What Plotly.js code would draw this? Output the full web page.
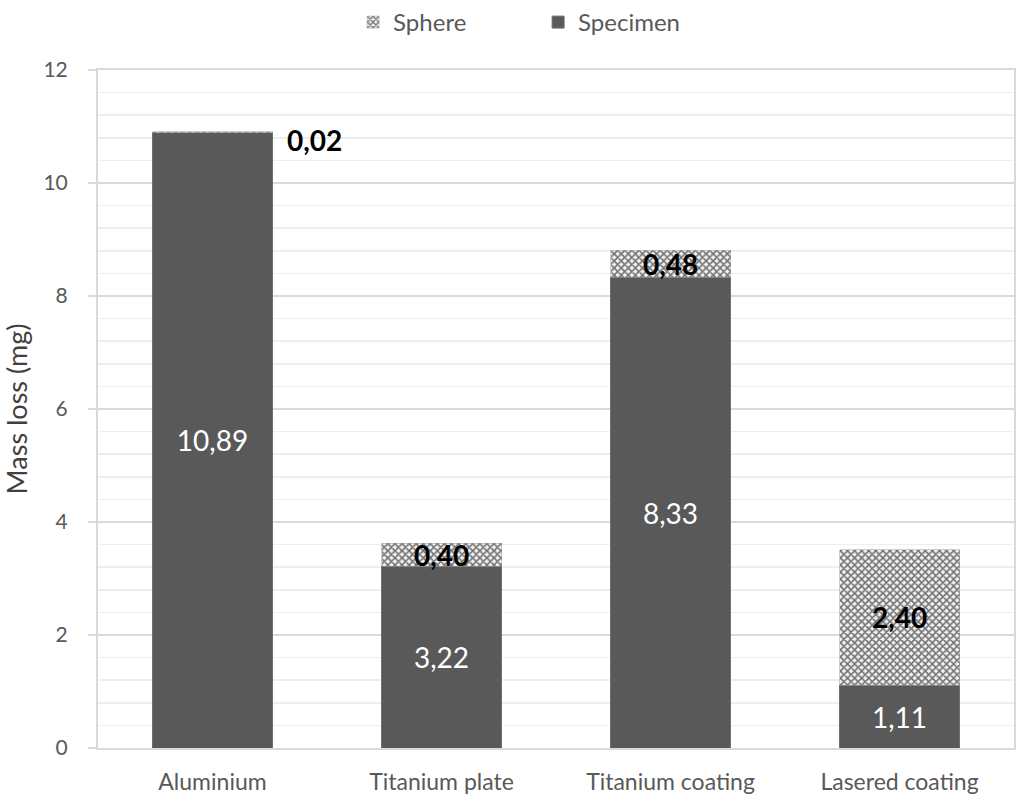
<!DOCTYPE html>
<html>
<head>
<meta charset="utf-8">
<script src="https://cdn.plot.ly/plotly-3.0.1.min.js"></script>
<style>html,body{margin:0;padding:0;background:#fff;}#chart{width:1024px;height:805px;}</style>
</head>
<body>
<div id="chart"></div>
<script>
const categories = ["Aluminium", "Titanium plate", "Titanium coating", "Lasered coating"];
const specimenLoss = [10.89, 3.22, 8.33, 1.11];
const sphereLoss = [0.02, 0.40, 0.48, 2.40];
const yTicks = [0, 2, 4, 6, 8, 10, 12];

const fmt = v => v.toFixed(2).replace('.', ',');
const FONT = 'Lato, "Open Sans", sans-serif';
const GRAY = '#595959';

const specimen = {
  type: 'bar', name: 'Specimen', x: categories, y: specimenLoss,
  marker: {color: '#595959', line: {color: '#6f6f6f', width: 1}},
  text: specimenLoss.map(fmt), textposition: 'inside', insidetextanchor: 'middle',
  textfont: {color: '#ffffff', size: 28, family: FONT},
  constraintext: 'none', hoverinfo: 'skip'
};
const sphere = {
  type: 'bar', name: 'Sphere', x: categories, y: sphereLoss,
  marker: {color: '#ffffff', line: {color: '#9a9a9a', width: 0.5},
    pattern: {shape: 'x', fgcolor: '#737373', bgcolor: '#f2f2f2', size: 5, solidity: 0.55}},
  hoverinfo: 'skip'
};

const annotations = categories.map((c, i) => {
  const small = sphereLoss[i] < 0.1;
  return {
    x: c, y: specimenLoss[i] + sphereLoss[i] / 2, xref: 'x', yref: 'y',
    text: '<b>' + fmt(sphereLoss[i]) + '</b>', showarrow: false,
    font: {size: 28, color: '#000000', family: FONT},
    xanchor: small ? 'left' : 'center', xshift: small ? 72 : 0, yshift: small ? -8 : 0
  };
});

const layout = {
  width: 1024, height: 805,
  margin: {l: 98, r: 10, t: 70, b: 57},
  paper_bgcolor: '#ffffff', plot_bgcolor: '#ffffff',
  barmode: 'stack', bargap: 0.476,
  font: {family: FONT, color: GRAY, size: 20},
  showlegend: true,
  legend: {orientation: 'h', traceorder: 'reversed', xref: 'container', yref: 'container',
    x: 0.5255, xanchor: 'center', y: 1.0, yanchor: 'top',
    font: {size: 24, color: GRAY, family: FONT}, entrywidth: 140, itemclick: false},
  xaxis: {
    type: 'category', showline: true, linecolor: '#d9d9d9', linewidth: 2, mirror: true,
    ticks: '', tickfont: {size: 23, color: GRAY}, ticklabelstandoff: 12, fixedrange: true
  },
  yaxis: {
    range: [0, 12], tickvals: yTicks, ticktext: yTicks.map(String),
    showline: true, linecolor: '#d9d9d9', linewidth: 2, mirror: true,
    ticks: 'outside', ticklen: 8, tickcolor: '#d9d9d9', tickwidth: 2,
    gridcolor: '#d9d9d9', gridwidth: 1.5,
    minor: {dtick: 0.4, tick0: 0, showgrid: true, gridcolor: '#eeeeee', gridwidth: 1.5, ticks: ''},
    tickfont: {size: 21, color: GRAY}, ticklabelstandoff: 16, zeroline: false,
    title: {text: 'Mass loss (mg)', font: {size: 27, color: '#404040'}, standoff: 10},
    fixedrange: true
  },
  annotations: annotations
};

Plotly.newPlot('chart', [specimen, sphere], layout, {displayModeBar: false, staticPlot: true});
</script>
</body>
</html>
